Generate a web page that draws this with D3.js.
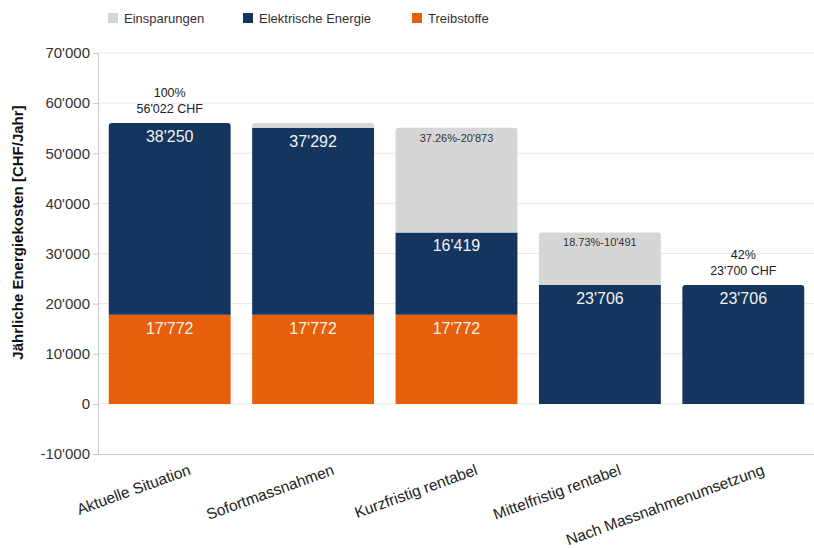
<!DOCTYPE html>
<html>
<head>
<meta charset="utf-8">
<script src="https://cdn.jsdelivr.net/npm/d3@7"></script>
<style>
  html, body { margin: 0; padding: 0; background: #fff; }
  svg { display: block; font-family: "Liberation Sans", Arial, sans-serif; }
</style>
</head>
<body>
<svg id="chart" width="814" height="548"></svg>
<script>
// Kategorien (Massnahmenstufen)
const categories = ["Aktuelle Situation", "Sofortmassnahmen", "Kurzfristig rentabel", "Mittelfristig rentabel", "Nach Massnahmenumsetzung"];

// Kosten je Energieträger [CHF/Jahr]
const treibstoffe = [17772, 17772, 17772, 0, 0];
const elektrisch  = [38250, 37292, 16419, 23706, 23706];
const einsparungen = [0, 958, 20873, 10491, 0];

// Beschriftungen der Einsparungen (Anteil - Betrag)
const savingsLabels = ["", "", "37.26%-20'873", "18.73%-10'491", ""];

// Gesamtbeschriftungen über den Säulen
const totalLabels = [["100%", "56'022 CHF"], null, null, null, ["42%", "23'700 CHF"]];

// Achsenticks
const yTicks = [-10000, 0, 10000, 20000, 30000, 40000, 50000, 60000, 70000];

const seriesNames = ["Einsparungen", "Elektrische Energie", "Treibstoffe"];
const colors = { "Einsparungen": "#d6d6d6", "Elektrische Energie": "#13355e", "Treibstoffe": "#e85f0a" };

const fmt = d3.formatLocale({ decimal: ".", thousands: "'", grouping: [3], currency: ["", ""], minus: "-" }).format(",d");

const svg = d3.select("#chart");
const plotLeft = 98, plotRight = 815, plotTop = 53, plotBottom = 454;

const x = d3.scaleBand().domain(categories).range([plotLeft, plotRight]).paddingInner(0.15).paddingOuter(0.075);
const y = d3.scaleLinear().domain([-10000, 70000]).range([plotBottom, plotTop]);

// Gitterlinien
svg.append("g").selectAll("line").data(yTicks.filter(t => t > -10000)).join("line")
  .attr("x1", plotLeft).attr("x2", plotRight)
  .attr("y1", d => y(d)).attr("y2", d => y(d))
  .attr("stroke", "#e9e9e9").attr("stroke-width", 1);

// y-Achse
const yAxis = svg.append("g").attr("transform", `translate(${plotLeft},0)`)
  .call(d3.axisLeft(y).tickValues(yTicks).tickFormat(fmt).tickSize(5).tickPadding(3));
yAxis.select(".domain").attr("stroke", "#c8c8c8");
yAxis.selectAll(".tick line").attr("stroke", "#c8c8c8");
yAxis.selectAll(".tick text").attr("fill", "#333").style("font-size", "15px").style("font-family", "Liberation Sans, Arial, sans-serif");

// x-Achse (Grundlinie unten)
const xAxis = svg.append("g").attr("transform", `translate(0,${plotBottom})`)
  .call(d3.axisBottom(x).tickSize(0).tickFormat(""));
xAxis.select(".domain").attr("stroke", "#c8c8c8");

// Gestapelte Segmente: Treibstoffe, Elektrische Energie, Einsparungen
const stackData = categories.map((c, i) => ({
  cat: c, "Treibstoffe": treibstoffe[i], "Elektrische Energie": elektrisch[i], "Einsparungen": einsparungen[i]
}));
const stack = d3.stack().keys(["Treibstoffe", "Elektrische Energie", "Einsparungen"]);
const layers = stack(stackData);

// oberstes Segment je Säule bestimmen (abgerundete Ecken oben)
const topKey = stackData.map(d => ["Einsparungen", "Elektrische Energie", "Treibstoffe"].find(k => d[k] > 0));

function segPath(x0, y0, w, h, r) {
  r = Math.min(r, h, w / 2);
  return `M${x0},${y0 + h}V${y0 + r}Q${x0},${y0} ${x0 + r},${y0}H${x0 + w - r}Q${x0 + w},${y0} ${x0 + w},${y0 + r}V${y0 + h}Z`;
}

const bw = x.bandwidth();
layers.forEach(layer => {
  svg.append("g").selectAll("path").data(layer.filter(d => d[1] - d[0] > 0)).join("path")
    .attr("d", d => {
      const i = categories.indexOf(d.data.cat);
      const x0 = x(d.data.cat), y0 = y(d[1]), h = y(d[0]) - y(d[1]);
      return segPath(x0, y0, bw, h, topKey[i] === layer.key ? 3 : 0);
    })
    .attr("fill", colors[layer.key]);
});

// Wertbeschriftungen in den Segmenten
const inner = svg.append("g").attr("text-anchor", "middle");
layers.forEach(layer => {
  if (layer.key === "Einsparungen") {
    layer.forEach((d, i) => {
      if (!savingsLabels[i]) return;
      inner.append("text")
        .attr("x", x(d.data.cat) + bw / 2).attr("y", y(d[1]) + 14)
        .attr("fill", "#333").style("font-size", "11px")
        .text(savingsLabels[i]);
    });
  } else {
    layer.forEach(d => {
      const v = d[1] - d[0];
      if (v <= 0) return;
      inner.append("text")
        .attr("x", x(d.data.cat) + bw / 2).attr("y", y(d[1]) + 19)
        .attr("fill", "#f2f2f2").style("font-size", "16px")
        .text(fmt(v));
    });
  }
});

// Summenbeschriftungen über den Säulen
categories.forEach((c, i) => {
  const lines = totalLabels[i];
  if (!lines) return;
  const total = treibstoffe[i] + elektrisch[i] + einsparungen[i];
  const t = svg.append("text").attr("text-anchor", "middle")
    .attr("fill", "#222").style("font-size", "12.5px");
  lines.forEach((ln, k) => {
    t.append("tspan").attr("x", x(c) + bw / 2)
      .attr("y", y(total) - 10 - (lines.length - 1 - k) * 16)
      .text(ln);
  });
});

// Kategorienbeschriftungen, schräg
svg.append("g").selectAll("text").data(categories).join("text")
  .attr("text-anchor", "end")
  .attr("transform", d => `translate(${x(d) + bw / 2 + 22},${474}) rotate(-20)`)
  .attr("fill", "#222").style("font-size", "15.5px")
  .text(d => d);

// y-Achsentitel
svg.append("text")
  .attr("transform", `translate(23,${(plotTop + 404) / 2 + 4}) rotate(-90)`)
  .attr("text-anchor", "middle")
  .attr("fill", "#111").style("font-size", "15px").style("font-weight", "bold")
  .text("Jährliche Energiekosten [CHF/Jahr]");

// Legende
const legendX = [108, 243, 412];
const legend = svg.append("g");
seriesNames.forEach((s, i) => {
  const g = legend.append("g").attr("transform", `translate(${legendX[i]},13)`);
  g.append("rect").attr("width", 10).attr("height", 10).attr("fill", colors[s]);
  g.append("text").attr("x", 16).attr("y", 9.5).attr("fill", "#333").style("font-size", "13px").text(s);
});
</script>
</body>
</html>
